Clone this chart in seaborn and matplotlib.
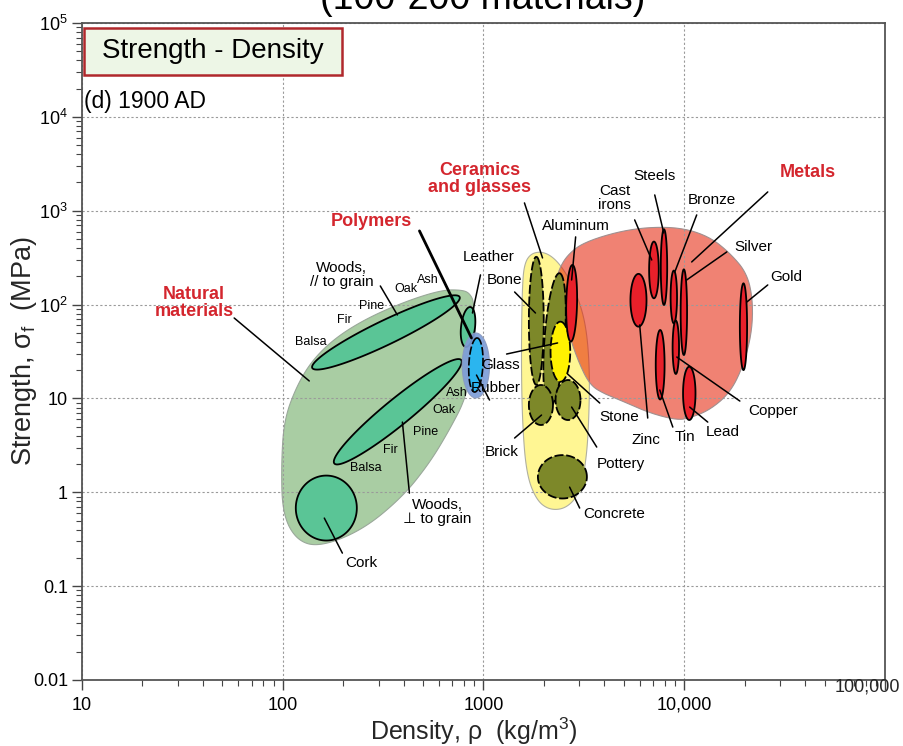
import numpy as np
import pandas as pd
import matplotlib
matplotlib.use("Agg")
import matplotlib.pyplot as plt
from matplotlib.patches import Rectangle
from matplotlib.ticker import LogLocator, NullFormatter, FixedLocator, FixedFormatter
import seaborn as sns

# ---------------- data (log10 units: density kg/m^3, strength MPa) ----------------
# envelope outlines (family bubbles)
natural_env_logrho = [2.890, 2.930, 2.955, 2.960, 2.915, 2.830, 2.731, 2.596, 2.397, 2.182,
                      2.067, 1.998, 1.993, 2.007, 2.067, 2.147, 2.267, 2.431, 2.631, 2.796]
natural_env_logsig = [2.156, 2.124, 2.017, 1.516, 1.015, 0.663, 0.311, -0.051, -0.403, -0.584,
                      -0.510, -0.222, 0.311, 0.770, 1.122, 1.409, 1.655, 1.868, 2.049, 2.156]
ceramic_env_logrho = [3.238, 3.296, 3.354, 3.412, 3.470, 3.512, 3.529, 3.525, 3.512, 3.479,
                      3.412, 3.329, 3.263, 3.213, 3.193, 3.188, 3.193, 3.204]
ceramic_env_logsig = [2.547, 2.564, 2.494, 2.334, 2.084, 1.764, 1.303, 0.770, 0.343, -0.012,
                      -0.172, -0.190, -0.083, 0.201, 0.770, 1.481, 2.191, 2.440]
metal_env_logrho = [3.364, 3.379, 3.419, 3.494, 3.663, 3.828, 3.993, 4.127, 4.227, 4.312,
                    4.342, 4.337, 4.292, 4.227, 4.127, 4.027, 3.963, 3.828, 3.703, 3.603,
                    3.529, 3.469, 3.419]
metal_env_logsig = [2.262, 2.390, 2.529, 2.657, 2.774, 2.827, 2.817, 2.721, 2.550, 2.337,
                    2.049, 1.697, 1.335, 1.058, 0.876, 0.791, 0.769, 0.844, 0.962, 1.047,
                    1.143, 1.409, 1.729]
polymer_env = (2.962, 1.351, 0.0, 0.346, 0.068, 0.0)

# material bubbles: centre and two half-axis vectors (log10 units)
mat_names = ["Woods //", "Woods perp", "Cork", "Leather", "Rubber",
             "Bone", "Stone", "Brick", "Pottery", "Concrete", "Glass",
             "Aluminum", "Zinc", "Cast irons", "Steels", "Bronze", "Silver",
             "Copper", "Tin", "Lead", "Gold"]
mat_group = ["nat", "nat", "nat", "nat", "rub",
             "cer", "cer", "cer", "cer", "cer", "gls",
             "met", "met", "met", "met", "met", "met", "met", "met", "met", "met"]
mat_logrho = [2.514, 2.573, 2.217, 2.923, 2.962,
              3.263, 3.354, 3.286, 3.421, 3.393, 3.383,
              3.439, 3.772, 3.849, 3.899, 3.948, 3.998, 3.958, 3.880, 4.025, 4.295]
mat_logsig = [1.703, 0.858, -0.168, 1.761, 1.356,
              1.827, 1.623, 0.930, 0.983, 0.165, 1.498,
              2.014, 2.046, 2.369, 2.399, 2.081, 1.919, 1.545, 1.359, 1.054, 1.764]
mat_a_rho = [0.367, 0.316, 0.152, 0.010, 0.006,
             0.0, 0.025, 0.060, 0.062, 0.122, 0.0,
             0.004, 0.0, 0.0, 0.0, 0.0, 0.0, 0.0, 0.0, 0.0, 0.0]
mat_a_sig = [0.378, 0.551, 0.0, 0.213, 0.288,
             0.682, 0.711, 0.0, 0.0, 0.0, 0.320,
             0.408, 0.281, 0.302, 0.403, 0.281, 0.456, 0.284, 0.370, 0.284, 0.462]
mat_b_rho = [0.026, 0.041, 0.0, 0.035, 0.035,
             0.037, 0.050, 0.0, 0.0, 0.0, 0.049,
             0.027, 0.040, 0.024, 0.016, 0.016, 0.016, 0.016, 0.022, 0.031, 0.018]
mat_b_sig = [-0.117, -0.108, 0.346, 0.0, 0.0,
             0.0, -0.016, 0.213, 0.213, 0.231, 0.0,
             0.0, 0.0, 0.0, 0.0, 0.0, 0.0, 0.0, 0.0, 0.0, 0.0]

x_ticks = [10, 100, 1000, 10000, 100000]
x_ticklabels = ["10", "100", "1000", "10,000", "100,000"]
y_ticks = [0.01, 0.1, 1, 10, 100, 1000, 1e4, 1e5]
y_ticklabels = ["0.01", "0.1", "1", "10", "$10^2$", "$10^3$", "$10^4$", "$10^5$"]

# annotations: text, text position, leader start, leader end (log10 units), kind
labels = [
    ("Natural\nmaterials", 1.559, 2.017, 1.758, 1.857, 2.132, 1.186, "red"),
    ("Polymers", 2.441, 2.881, 2.681, 2.785, 2.940, 1.644, "redthick"),
    ("Ceramics\nand glasses", 2.980, 3.339, 3.204, 3.083, 3.294, 2.497, "red"),
    ("Metals", 4.616, 3.403, 4.416, 3.200, 4.037, 2.454, "red"),
    ("Woods,\n// to grain", 2.292, 2.316, 2.486, 2.198, 2.571, 1.889, "mat"),
    ("Woods,\n\u22a5 to grain", 2.771, -0.211, 2.631, -0.009, 2.596, 0.748, "mat"),
    ("Cork", 2.392, -0.755, 2.297, -0.648, 2.207, -0.275, "mat"),
    ("Leather", 3.025, 2.507, 2.985, 2.316, 2.945, 1.910, "mat"),
    ("Bone", 3.105, 2.262, 3.155, 2.134, 3.259, 1.910, "mat"),
    ("Glass", 3.085, 1.356, 3.115, 1.473, 3.369, 1.591, "mat"),
    ("Rubber", 3.060, 1.111, 2.965, 1.249, 3.030, 0.983, "mat"),
    ("Brick", 3.090, 0.429, 3.155, 0.578, 3.289, 0.823, "mat"),
    ("Stone", 3.678, 0.802, 3.579, 0.951, 3.419, 1.260, "mat"),
    ("Pottery", 3.683, 0.301, 3.564, 0.482, 3.439, 0.908, "mat"),
    ("Concrete", 3.653, -0.232, 3.479, -0.168, 3.429, 0.055, "mat"),
    ("Aluminum", 3.459, 2.838, 3.459, 2.721, 3.439, 2.262, "mat"),
    ("Cast\nirons", 3.653, 3.136, 3.753, 2.902, 3.838, 2.475, "mat"),
    ("Steels", 3.853, 3.371, 3.853, 3.168, 3.898, 2.763, "mat"),
    ("Bronze", 4.137, 3.115, 4.062, 2.955, 3.953, 2.348, "mat"),
    ("Silver", 4.347, 2.614, 4.212, 2.561, 4.012, 2.262, "mat"),
    ("Gold", 4.506, 2.294, 4.416, 2.209, 4.312, 2.028, "mat"),
    ("Copper", 4.441, 0.866, 4.277, 0.972, 3.963, 1.441, "mat"),
    ("Lead", 4.192, 0.642, 4.117, 0.748, 4.027, 0.908, "mat"),
    ("Tin", 4.002, 0.588, 3.943, 0.695, 3.878, 1.090, "mat"),
    ("Zinc", 3.808, 0.557, 3.818, 0.791, 3.778, 1.783, "mat"),
]
small_labels = [
    ("Ash", 2.721, 2.262), ("Oak", 2.616, 2.166), ("Pine", 2.441, 1.985),
    ("Fir", 2.307, 1.836), ("Balsa", 2.142, 1.601),
    ("Ash", 2.865, 1.058), ("Oak", 2.805, 0.876), ("Pine", 2.711, 0.642),
    ("Fir", 2.536, 0.450), ("Balsa", 2.416, 0.258),
]

# ---------------- styling ----------------
sns.set_theme(style="ticks")
plt.rcParams['font.family'] = ['Liberation Sans', 'DejaVu Sans']
plt.rcParams['mathtext.fontset'] = 'custom'
plt.rcParams['mathtext.rm'] = 'Liberation Sans'
plt.rcParams['mathtext.it'] = 'Liberation Sans:italic'
plt.rcParams['mathtext.default'] = 'regular'

colors = {"natenv": "#a9cda3", "nat": "#5ac596", "polyenv": "#7d9dd8", "rub": "#2bb5ef",
          "cerenv": "#fff693", "cer": "#7d8829", "gls": "#fff200", "metenv": "#e41c00",
          "met": "#e8202a"}
RED = "#d4262e"


def ellipse(cx, cy, arho, asig, brho, bsig, n=300):
    t = np.linspace(0, 2 * np.pi, n)
    X = cx + arho * np.cos(t) + brho * np.sin(t)
    Y = cy + asig * np.cos(t) + bsig * np.sin(t)
    return 10 ** X, 10 ** Y


def smooth_closed(X, Y, it=4):
    P = np.column_stack([X, Y])
    for _ in range(it):
        N = np.roll(P, -1, axis=0)
        Q = 0.75 * P + 0.25 * N
        R = 0.25 * P + 0.75 * N
        P = np.empty((2 * len(Q), 2))
        P[0::2] = Q
        P[1::2] = R
    return 10 ** P[:, 0], 10 ** P[:, 1]


fig = plt.figure(figsize=(9.04, 7.46), dpi=100)
fig.patch.set_facecolor("white")
ax = fig.add_axes([82 / 904, 1 - 680 / 746, (885 - 82) / 904, (680 - 23) / 746])
ax.set_facecolor("white")
ax.set_xscale("log")
ax.set_yscale("log")
ax.set_xlim(10, 1e5)
ax.set_ylim(0.01, 1e5)

# envelopes
ex, ey = smooth_closed(natural_env_logrho, natural_env_logsig)
ax.fill(ex, ey, facecolor=colors["natenv"], edgecolor="#9aa89a", lw=0.8, zorder=1)
ex, ey = smooth_closed(ceramic_env_logrho, ceramic_env_logsig)
ax.fill(ex, ey, facecolor=colors["cerenv"], edgecolor="#b0b0a0", lw=0.8, zorder=1)
ex, ey = smooth_closed(metal_env_logrho, metal_env_logsig)
ax.fill(ex, ey, facecolor=colors["metenv"], alpha=0.55, edgecolor="none", zorder=1.1)
ax.plot(ex, ey, color="#a09090", lw=0.8, zorder=1.1)

# material bubbles
for i in range(len(mat_names)):
    g = mat_group[i]
    x, y = ellipse(mat_logrho[i], mat_logsig[i], mat_a_rho[i], mat_a_sig[i],
                   mat_b_rho[i], mat_b_sig[i])
    if g == "rub":
        px, py = ellipse(*polymer_env)
        ax.fill(px, py, facecolor=colors["polyenv"], edgecolor="#8a9ac0", lw=0.8,
                alpha=0.92, zorder=3)
        ax.fill(x, y, facecolor=colors["rub"], edgecolor="black", lw=1.2,
                ls=(0, (5, 1.5)), zorder=3.1)
        continue
    ls = (0, (5, 1.5)) if g in ("cer", "gls") else "-"
    z = 3.5 if g == "gls" else (3.6 if g == "met" else 3)
    ax.fill(x, y, facecolor=colors[g], edgecolor="black", lw=1.3, ls=ls, zorder=z)

# leader lines (drawn through seaborn)
segs = []
for k, (txt, tx, ty, x0, y0, x1, y1, kind) in enumerate(labels):
    segs.append({"seg": k, "x": 10 ** x0, "y": 10 ** y0, "thick": kind == "redthick"})
    segs.append({"seg": k, "x": 10 ** x1, "y": 10 ** y1, "thick": kind == "redthick"})
df = pd.DataFrame(segs)
sns.lineplot(data=df[~df.thick], x="x", y="y", units="seg", estimator=None, sort=False,
             color="black", lw=1.1, ax=ax, zorder=5, legend=False)
sns.lineplot(data=df[df.thick], x="x", y="y", units="seg", estimator=None, sort=False,
             color="black", lw=2.0, ax=ax, zorder=5, legend=False)

for txt, tx, ty, x0, y0, x1, y1, kind in labels:
    if kind in ("red", "redthick"):
        ax.text(10 ** tx, 10 ** ty, txt, ha="center", va="center", fontsize=13,
                fontweight="bold", color=RED, linespacing=1.0, zorder=6)
    else:
        ax.text(10 ** tx, 10 ** ty, txt, ha="center", va="center", fontsize=11,
                color="black", linespacing=1.0, zorder=6)
for txt, tx, ty in small_labels:
    ax.text(10 ** tx, 10 ** ty, txt, ha="center", va="center", fontsize=9,
            color="black", zorder=6)

# axes cosmetics
ax.xaxis.set_major_locator(FixedLocator(x_ticks))
ax.xaxis.set_major_formatter(FixedFormatter(x_ticklabels[:-1] + [""]))
ax.yaxis.set_major_locator(FixedLocator(y_ticks))
ax.yaxis.set_major_formatter(FixedFormatter(y_ticklabels))
ax.xaxis.set_minor_locator(LogLocator(base=10, subs=np.arange(2, 10), numticks=20))
ax.yaxis.set_minor_locator(LogLocator(base=10, subs=np.arange(2, 10), numticks=20))
ax.xaxis.set_minor_formatter(NullFormatter())
ax.yaxis.set_minor_formatter(NullFormatter())
ax.tick_params(which="major", direction="out", length=7, width=1, color="#444444",
               labelsize=13, labelcolor="black")
ax.tick_params(which="minor", direction="out", length=4, width=0.8, color="#444444")
ax.tick_params(axis="x", pad=5)
ax.tick_params(axis="y", pad=3)
# last x tick label sits tucked in at the right edge, slightly raised
ax.annotate(x_ticklabels[-1], xy=(1, 0), xycoords="axes fraction", xytext=(15, -7),
            textcoords="offset pixels", ha="right", va="center", fontsize=13)
for s in ax.spines.values():
    s.set_color("#555555")
    s.set_linewidth(1.3)
ax.set_axisbelow("line")
ax.grid(True, which="major", ls=(0, (2, 2)), color="#9a9a9a", lw=0.8)

ax.set_xlabel("Density, \u03c1  (kg/m$^3$)", fontsize=18)
ax.xaxis.set_label_coords(0.488, -0.054)
ax.set_ylabel("Strength, \u03c3$_f$  (MPa)", fontsize=19.5)
ax.yaxis.set_label_coords(-0.053, 0.5)

# panel box and sub-caption
ax.add_patch(Rectangle((0.0025, 0.9209), 0.321, 0.0715, transform=ax.transAxes,
                       facecolor="#edf6e6", edgecolor="#b0282c", lw=1.8, zorder=7,
                       clip_on=False))
ax.text(0.0025 + 0.321 / 2, 0.9209 + 0.0715 / 2, "Strength - Density", transform=ax.transAxes,
        ha="center", va="center", fontsize=20, color="black", zorder=8)
ax.text(0.003, 0.880, "(d) 1900 AD", transform=ax.transAxes, ha="left", va="center",
        fontsize=16.5, color="black", zorder=7)

# cut-off page title at the top edge
fig.text(483 / 904, 1 - 9 / 746, "(100-200 materials)", ha="center", va="baseline",
         fontsize=27, color="black")

fig.savefig("out.png", dpi=100, facecolor="white")
